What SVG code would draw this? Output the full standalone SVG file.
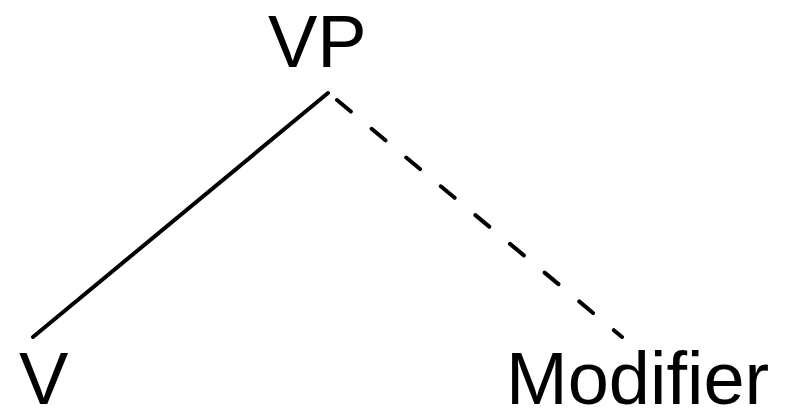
<svg xmlns="http://www.w3.org/2000/svg" width="785" height="408" viewBox="0 0 785 408">
  <style>
    .label { font-family: "Liberation Sans", Arial, sans-serif; font-size: 74px; fill: #000; }
    .edge { stroke: #000; stroke-width: 4; stroke-linecap: round; fill: none; }
    .dashed { stroke-dasharray: 18 27; }
  </style>
  <rect width="785" height="408" fill="#fff"/>
  <g id="edges">
    <line class="edge" x1="328" y1="93" x2="33" y2="337"/>
    <line class="edge dashed" x1="337" y1="100" x2="622" y2="337"/>
  </g>
  <g id="node-vp">
    <text class="label" x="268" y="67">VP</text>
  </g>
  <g id="node-v">
    <text class="label" x="19" y="404">V</text>
  </g>
  <g id="node-modifier">
    <text class="label" x="506" y="404">Modifier</text>
  </g>
</svg>
